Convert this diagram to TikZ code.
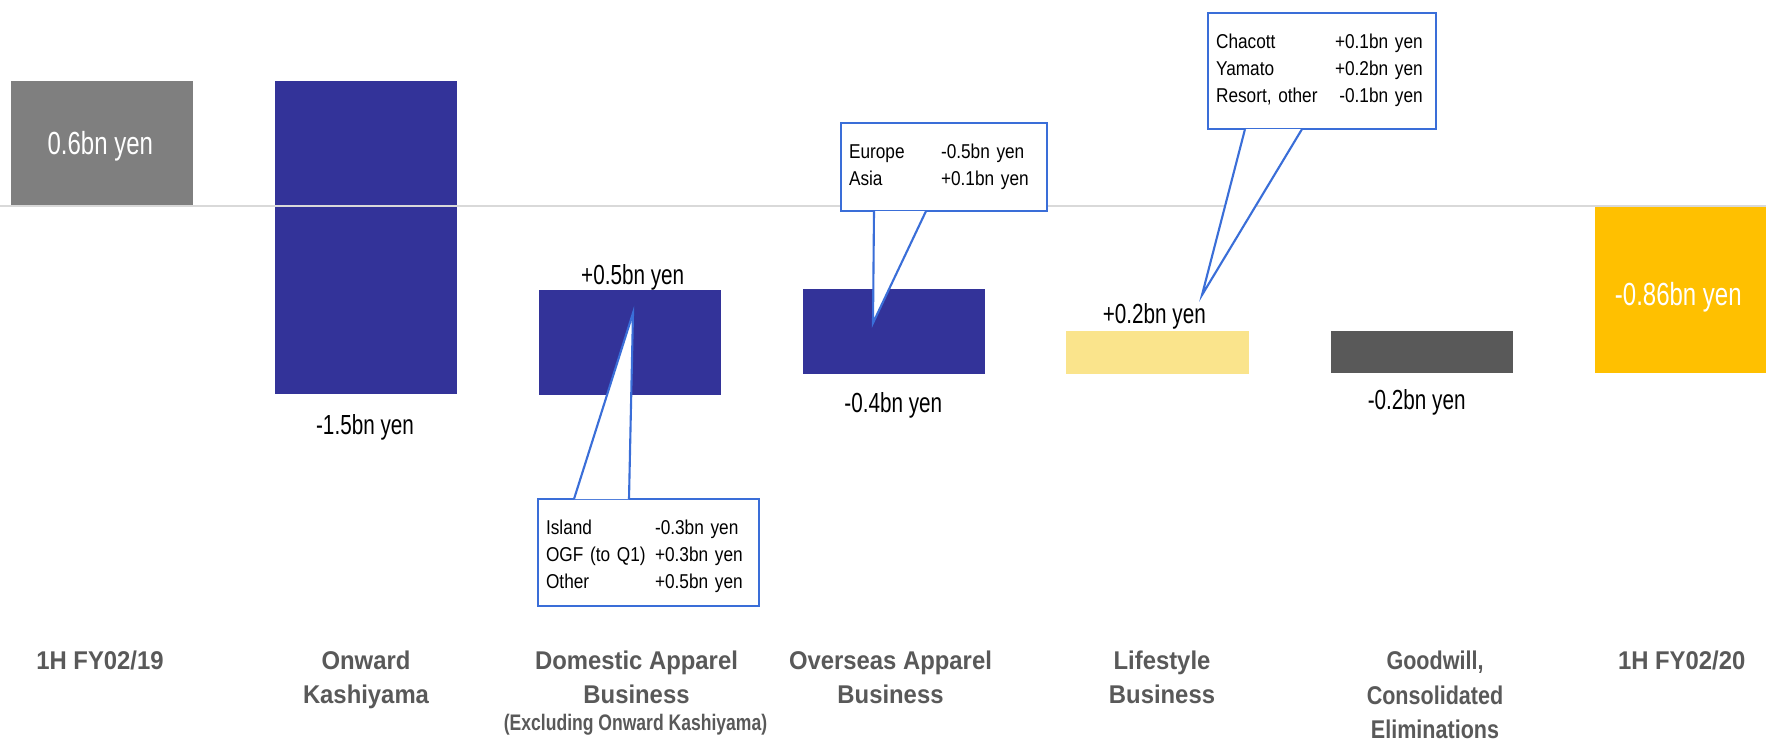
\documentclass[tikz,border=0pt]{standalone}
\usepackage{fontspec}
\setmainfont{Liberation Sans}
\newfontfamily\barfont{Liberation Sans}[FakeStretch=0.75]
\newfontfamily\notefont{Liberation Sans}[FakeStretch=0.86]
\newfontfamily\catfont{Liberation Sans}[FakeStretch=0.93]
\newfontfamily\goodfont{Liberation Sans}[FakeStretch=0.84]
\newfontfamily\subcatfont{Liberation Sans}[FakeStretch=0.78]
\usetikzlibrary{calc}
\definecolor{startgrey}{RGB}{127,127,127}
\definecolor{barnavy}{RGB}{51,51,153}
\definecolor{lifeyellow}{RGB}{250,228,140}
\definecolor{goodgrey}{RGB}{89,89,89}
\definecolor{endgold}{RGB}{255,192,0}
\definecolor{noteblue}{RGB}{58,110,216}
\definecolor{axisgrey}{RGB}{217,217,217}
\definecolor{cattext}{RGB}{89,89,89}

\begin{document}
\begin{tikzpicture}[
    valuelabel/.style={anchor=base, inner sep=0, font=\barfont\fontsize{7.85}{9}\selectfont},
    totallabel/.style={anchor=base, inner sep=0, text=white, font=\barfont\fontsize{9.1}{11}\selectfont},
    notebox/.style={draw=noteblue, fill=white, line width=0.6pt, anchor=north west, inner xsep=0.08cm, inner ysep=0, text height=0.355cm, align=left, font=\notefont\fontsize{5.7}{7.7}\selectfont},
    pointer/.style={draw=noteblue, fill=white, line width=0.6pt, line join=miter},
    category/.style={anchor=north, inner sep=0, align=center, text=cattext, font=\catfont\bfseries\fontsize{7.3}{9.6}\selectfont},
    subcategory/.style={anchor=base, inner sep=0, text=cattext, font=\subcatfont\bfseries\fontsize{6.4}{8}\selectfont},
    axisline/.style={draw=axisgrey, line width=0.3pt}
]
\useasboundingbox (0,0) rectangle (17.66,-7.41);

% Bars
\fill[startgrey] (0.11,-0.81) rectangle (1.93,-2.06);
\fill[barnavy] (2.75,-0.81) rectangle (4.57,-3.94);
\fill[barnavy] (5.39,-2.90) rectangle (7.21,-3.95);
\fill[barnavy] (8.03,-2.89) rectangle (9.85,-3.74);
\fill[lifeyellow] (10.66,-3.31) rectangle (12.49,-3.74);
\fill[goodgrey] (13.31,-3.31) rectangle (15.13,-3.73);
\fill[endgold] (15.95,-2.07) rectangle (17.66,-3.73);

% Zero line
\draw[axisline] (0,-2.06) -- (17.66,-2.06);

% Bar values
\node[totallabel] (startval) at (1.003,-1.543) {0.6bn yen};
\node[valuelabel] (onwardval) at (3.65,-4.345) {-1.5bn yen};
\node[valuelabel] (domval) at (6.327,-2.84) {+0.5bn yen};
\node[valuelabel] (overval) at (8.933,-4.126) {-0.4bn yen};
\node[valuelabel] (lifeval) at (11.543,-3.233) {+0.2bn yen};
\node[valuelabel] (goodval) at (14.167,-4.093) {-0.2bn yen};
\node[totallabel] (endval) at (16.783,-3.057) {-0.86bn yen};

% Categories
\node[category] (startcat) at (1.00,-6.506) {1H FY02/19};
\node[category] (onwardcat) at (3.66,-6.506) {Onward\\Kashiyama};
\node[category] (domcat) at (6.365,-6.506) {Domestic Apparel\\Business};
\node[subcategory] (domsub) at (6.355,-7.30) {(Excluding Onward Kashiyama)};
\node[category] (overcat) at (8.905,-6.506) {Overseas Apparel\\Business};
\node[category] (lifecat) at (11.62,-6.506) {Lifestyle\\Business};
\node[category, font=\goodfont\bfseries\fontsize{7.3}{9.7}\selectfont] (goodcat) at (14.35,-6.506) {Goodwill,\\Consolidated\\Eliminations};
\node[category] (endcat) at (16.817,-6.506) {1H FY02/20};

% Callouts
\coordinate (domtip) at (6.33,-3.13);
\coordinate (overtip) at (8.73,-3.23);
\coordinate (lifetip) at (12.02,-2.95);

\node[notebox, text width=2.05cm, text depth=0.715cm] (domnote) at (5.37,-4.98) {%
  \begin{tabular}[t]{@{}p{1.09cm}@{}l@{}}
  Island & -0.3bn yen\\
  OGF (to Q1) & +0.3bn yen\\
  Other & +0.5bn yen
  \end{tabular}};
\draw[pointer] ($(domnote.north west)+(0.37,-0.01)$) -- (domtip) -- ($(domnote.north west)+(0.92,-0.01)$);

\node[notebox, text width=1.90cm, text depth=0.525cm] (overnote) at (8.40,-1.22) {%
  \begin{tabular}[t]{@{}p{0.92cm}@{}l@{}}
  Europe & -0.5bn yen\\
  Asia & +0.1bn yen
  \end{tabular}};
\draw[pointer] ($(overnote.south west)+(0.34,0.01)$) -- (overtip) -- ($(overnote.south west)+(0.86,0.01)$);

\node[notebox, text width=2.12cm, text depth=0.805cm] (lifenote) at (12.07,-0.12) {%
  \begin{tabular}[t]{@{}p{1.19cm}@{}r@{}}
  Chacott & +0.1bn yen\\
  Yamato & +0.2bn yen\\
  Resort, other & -0.1bn yen
  \end{tabular}};
\draw[pointer] ($(lifenote.south west)+(0.38,0.01)$) -- (lifetip) -- ($(lifenote.south west)+(0.95,0.01)$);

\end{tikzpicture}
\end{document}
